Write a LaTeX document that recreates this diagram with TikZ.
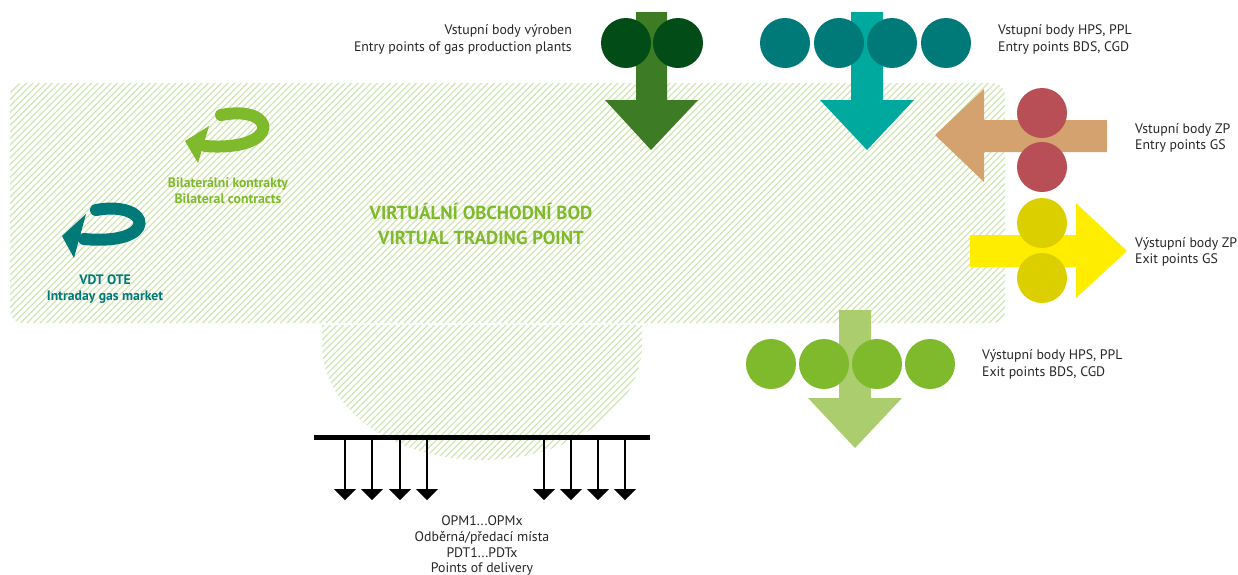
\documentclass[tikz,border=0pt]{standalone}
\usepackage{fontspec}
\setmainfont{PT Sans}
\usetikzlibrary{calc}
\definecolor{hatch}{HTML}{D3E4B5}
\definecolor{prodarrow}{HTML}{3D7B25}
\definecolor{prodcirc}{HTML}{024C17}
\definecolor{hpsarrow}{HTML}{00A99D}
\definecolor{hpscirc}{HTML}{007A78}
\definecolor{zparrow}{HTML}{D4A26E}
\definecolor{zpcirc}{HTML}{B94F56}
\definecolor{exarrow}{HTML}{FFED00}
\definecolor{excirc}{HTML}{DCCF00}
\definecolor{outarrow}{HTML}{ABCD6E}
\definecolor{outcirc}{HTML}{7FBA2C}
\definecolor{lgreen}{HTML}{7FBA2C}
\definecolor{teal}{HTML}{007A78}
\begin{document}
\begin{tikzpicture}[x=1pt,y=-1pt,
  lbl/.style={font=\fontsize{13.8}{16}\selectfont, inner sep=0pt, text=black!85},
  blbl/.style={font=\bfseries\fontsize{13.7}{16}\selectfont, inner sep=0pt},
  vlbl/.style={font=\bfseries\fontsize{18.8}{22}\selectfont, inner sep=0pt, text=lgreen},
  hline/.style={draw=hatch, line width=1.3pt},
  dot/.style={circle, minimum size=50pt, inner sep=0pt},
  drop/.style={line width=2pt, draw=black},
  droptip/.style={fill=black},
]
\useasboundingbox (0,0) rectangle (1238,574);

% ---------- hatched virtual trading point area ----------
\begin{scope}
  \clip[rounded corners=12pt] (10,83) rectangle (1005,323);
  \foreach \c in {-520,-513.5,...,1010} \draw[hline] (\c,480) -- ++(420,-420);
\end{scope}
\begin{scope}
  \clip (322,325) -- (322,345) arc[start angle=180, end angle=0, x radius=160pt, y radius=-115pt] -- (642,325) -- cycle;
  \foreach \c in {-520,-513.5,...,1010} \draw[hline] (\c,480) -- ++(420,-420);
\end{scope}

% ---------- production entry (dark green) ----------
\fill[prodarrow] (636,12) -- (667,12) -- (667,100) -- (698,100) -- (651,150) -- (605,100) -- (636,100) -- cycle;
\node[dot, fill=prodcirc] (p1) at (626,43) {};
\node[dot, fill=prodcirc] (p2) at (678,43) {};

% ---------- HPS/PPL entry (teal) ----------
\fill[hpsarrow] (851,12) -- (883,12) -- (883,100) -- (914,100) -- (867,150) -- (820,100) -- (851,100) -- cycle;
\node[dot, fill=hpscirc] (h1) at (785,43) {};
\node[dot, fill=hpscirc] (h2) at (839,43) {};
\node[dot, fill=hpscirc] (h3) at (892,43) {};
\node[dot, fill=hpscirc] (h4) at (946,43) {};

% ---------- storage entry (brown, left) ----------
\fill[zparrow] (1107,120) -- (1107,152) -- (984,152) -- (984,182) -- (935,135) -- (984,89) -- (984,120) -- cycle;
\node[dot, fill=zpcirc] (z1) at (1042,113) {};
\node[dot, fill=zpcirc] (z2) at (1042,167) {};

% ---------- storage exit (yellow, right) ----------
\fill[exarrow] (970,235) -- (1076,235) -- (1076,203) -- (1127,251) -- (1076,298) -- (1076,267) -- (970,267) -- cycle;
\node[dot, fill=excirc] (e1) at (1042,223) {};
\node[dot, fill=excirc] (e2) at (1042,278) {};

% ---------- HPS/PPL exit (light green) ----------
\fill[outarrow] (839,310) -- (871,310) -- (871,398) -- (902,398) -- (855,448) -- (808,398) -- (839,398) -- cycle;
\node[dot, fill=outcirc] (o1) at (771,364) {};
\node[dot, fill=outcirc] (o2) at (824,364) {};
\node[dot, fill=outcirc] (o3) at (877,364) {};
\node[dot, fill=outcirc] (o4) at (930,364) {};

% ---------- loop arrows ----------
\draw[lgreen, line width=12pt, line cap=round] (221,115) .. controls (278,104) and (282,152) .. (205,146);
\fill[lgreen] (185,141) -- (209,126) -- (198,163) -- cycle;
\draw[teal, line width=12pt, line cap=round] (96,210) .. controls (152,200) and (160,246) .. (84,239);
\fill[teal] (62,236) -- (86,214) -- (74,258) -- cycle;

% ---------- delivery points ----------
\coordinate (barL) at (314,437);
\coordinate (barR) at (650,437);
\draw[line width=5pt] (barL) -- (barR);
\foreach \x in {345,372,400,427,544,571,598,625} {
  \draw[drop] (\x,437) -- (\x,491);
  \fill[droptip] (\x-11,489) -- (\x+11,489) -- (\x,500) -- cycle;
}

% ---------- texts ----------
\node[lbl, anchor=base east] (t1a) at (572,34) {Vstupní body výroben};
\node[lbl, anchor=base east] (t1b) at (572,51) {Entry points of gas production plants};
\node[lbl, anchor=base west] (t2a) at (998,34) {Vstupní body HPS, PPL};
\node[lbl, anchor=base west] (t2b) at (998,51) {Entry points BDS, CGD};
\node[lbl, anchor=base west] (t3a) at (1135,133) {Vstupní body ZP};
\node[lbl, anchor=base west] (t3b) at (1135,149) {Entry points GS};
\node[lbl, anchor=base west] (t4a) at (1135,247) {Výstupní body ZP};
\node[lbl, anchor=base west] (t4b) at (1135,263) {Exit points GS};
\node[lbl, anchor=base west] (t5a) at (982,359) {Výstupní body HPS, PPL};
\node[lbl, anchor=base west] (t5b) at (982,376) {Exit points BDS, CGD};
\node[lbl, anchor=base] (t6a) at (482,525) {OPM1...OPMx};
\node[lbl, anchor=base] (t6b) at (482,541) {Odběrná/předací místa};
\node[lbl, anchor=base] (t6c) at (482,557) {PDT1...PDTx};
\node[lbl, anchor=base] (t6d) at (482,572) {Points of delivery};
\node[blbl, text=lgreen, anchor=base] (b1) at (228,187) {Bilaterální kontrakty};
\node[blbl, text=lgreen, anchor=base] (b2) at (228,203) {Bilateral contracts};
\node[blbl, text=teal, anchor=base] (v1) at (105,284) {VDT OTE};
\node[blbl, text=teal, anchor=base] (v2) at (105,300) {Intraday gas market};
\node[vlbl, anchor=base] (vt1) at (481,219) {VIRTUÁLNÍ OBCHODNÍ BOD};
\node[vlbl, anchor=base] (vt2) at (481,244) {VIRTUAL TRADING POINT};
\end{tikzpicture}
\end{document}
